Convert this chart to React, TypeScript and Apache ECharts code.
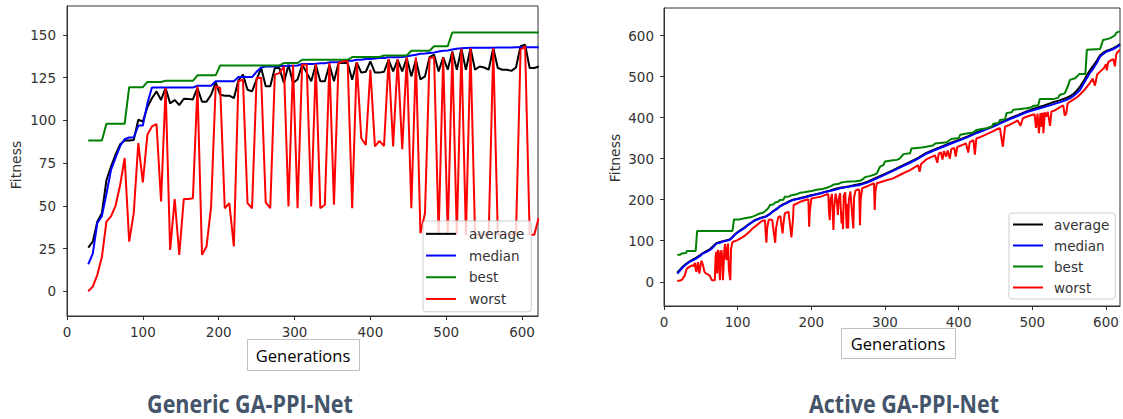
import React, { useEffect, useRef } from "react";
import * as echarts from "echarts";

// ---------- Left chart: Generic GA-PPI-Net ----------
const genL = [28, 34, 40, 46, 52, 58, 64, 70, 76, 82, 88, 94, 100, 106, 112, 118, 124, 130, 136, 142, 148, 154, 160, 166, 172, 178, 184, 190, 196, 202, 208, 214, 220, 226, 232, 238, 244, 250, 256, 262, 268, 274, 280, 286, 292, 298, 304, 310, 316, 322, 328, 334, 340, 346, 352, 358, 364, 370, 376, 382, 388, 394, 400, 406, 412, 418, 424, 430, 436, 442, 448, 454, 460, 466, 472, 478, 484, 490, 496, 502, 508, 514, 520, 526, 532, 538, 544, 550, 556, 562, 568, 574, 580, 586, 592, 598, 604, 610, 616, 622];

const averageL = [25.6, 29, 40.8, 45.7, 65, 73, 80, 86, 88.3, 88.3, 88.5, 100.4, 99.4, 107.8, 113, 117, 112, 119, 110, 112, 109, 112.7, 112.5, 112.3, 119, 111, 111, 115, 122.3, 115, 114.5, 114.5, 113, 123.4, 126.8, 118, 117, 124, 130.7, 120, 120, 130.7, 130.7, 121.9, 132.6, 121.9, 124, 132.6, 128, 122.9, 132.6, 122.9, 122.9, 132.6, 122.9, 133.6, 133.6, 133.6, 123.8, 134, 128, 128.5, 134.6, 128, 128, 128.5, 135.5, 128.7, 135.5, 128.7, 136.5, 125.8, 135.5, 124, 125.8, 137, 138.5, 128.7, 137, 129.7, 140.4, 129.7, 142, 129.7, 142.4, 129.7, 131.6, 131, 129.7, 142.4, 130.7, 129.7, 129.7, 129, 131, 143.4, 144.3, 130.7, 130.7, 131.6];

const medianL = [15.8, 22, 40, 44, 57, 71, 78, 85, 89, 90, 90, 97, 97, 110, 119.3, 119.3, 119.3, 119.3, 119.3, 119.3, 119.3, 119.3, 119.3, 119.3, 120.3, 120.3, 120.3, 120.3, 122.9, 122.9, 122.9, 122.9, 122.9, 125.4, 125.4, 125.4, 125.4, 128.5, 131, 131.6, 131.6, 131.6, 131.8, 131.8, 132, 132, 132.2, 133, 133, 133, 133.2, 133.5, 133.5, 134, 134, 134.2, 134.5, 135, 135, 135.5, 135.5, 136, 136, 136.2, 136.5, 136.5, 137, 137, 137, 137.2, 137.5, 138, 138.5, 139, 139.2, 139.5, 139.8, 140.3, 140.8, 141, 141.5, 142, 142.2, 142.4, 142.5, 142.5, 142.6, 142.6, 142.6, 142.6, 142.7, 142.7, 142.7, 142.7, 142.8, 142.8, 142.8, 142.8, 142.8, 142.8];

const bestL = [88.3, 88.3, 88.3, 88.3, 98, 98, 98, 98, 98, 119.5, 119.5, 119.5, 119.5, 122.5, 122.5, 122.5, 122.5, 123.2, 123.2, 123.2, 123.2, 123.2, 123.2, 123.2, 126.4, 126.4, 126.4, 126.4, 126.4, 132.2, 132.2, 132.2, 132.2, 132.2, 132.2, 132.2, 132.2, 132.2, 132.2, 132.2, 132.2, 132.2, 132.2, 133.6, 133.6, 133.6, 133.6, 135.5, 135.5, 135.5, 135.5, 135.5, 135.5, 135.5, 135.5, 135.5, 135.5, 135.5, 137.1, 137.1, 137.1, 137.1, 137.1, 137.1, 137.1, 138, 138, 138, 138, 138, 138, 140.8, 140.8, 140.8, 140.8, 140.8, 143.4, 143.4, 143.4, 143.4, 151.5, 151.5, 151.5, 151.5, 151.5, 151.5, 151.5, 151.5, 151.5, 151.5, 151.5, 151.5, 151.5, 151.5, 151.5, 151.5, 151.5, 151.5, 151.5, 151.5];

const worstL = [0, 2.7, 9.6, 20, 40.8, 43.8, 50, 62, 78, 29, 45.7, 86.7, 63.7, 91.6, 96.5, 97.9, 52.5, 119, 24.2, 54, 21.3, 54, 54, 54.5, 120, 21.3, 26.2, 49.6, 120, 119, 48.6, 51.6, 26.2, 122.9, 123.8, 51.6, 48.6, 124.8, 125, 52, 48.6, 126.8, 127.7, 131.6, 49.6, 132.6, 48.6, 132.6, 132.8, 49.6, 133, 48.6, 50.6, 133.6, 50.6, 133.6, 134.6, 134.6, 48.6, 134, 89.6, 85.7, 129.7, 84.8, 88, 85, 136, 84.8, 136, 83.2, 136.9, 48.6, 137, 34, 45.7, 136.5, 137, 33, 137, 33, 140, 33, 142, 33, 142.4, 33, 33, 33, 33, 142.4, 33, 33, 33, 33, 33, 141.4, 143.4, 33, 33, 43];

// ---------- Right chart: Active GA-PPI-Net ([generation, fitness]) ----------
const averageR: [number, number][] = [[18, 22], [22, 30], [26, 38], [30, 44], [35, 50], [40, 55], [44, 59], [49, 65], [53, 70], [58, 75], [62, 79], [67, 87], [71, 94], [76, 97], [80, 99], [85, 101], [90, 104], [96, 115], [100, 121], [105, 127], [110, 133], [114, 139], [119, 145], [123, 150], [130, 155], [135, 158], [139, 160], [144, 166], [148, 172], [153, 178], [157, 184], [162, 189], [166, 192], [171, 197], [175, 200], [180, 202], [185, 204], [192, 207], [198, 210], [205, 213], [212, 216], [218, 219], [225, 222], [232, 226], [239, 229], [246, 231], [252, 233], [259, 236], [266, 238], [275, 243], [280, 247], [289, 254], [300, 263], [311, 272], [320, 280], [334, 292], [345, 302], [356, 314], [368, 323], [379, 331], [390, 339], [402, 347], [413, 355], [424, 364], [436, 372], [447, 380], [458, 389], [469, 398], [480, 406], [492, 415], [503, 422], [515, 429], [526, 436], [537, 442], [545, 447], [551, 452], [556, 458], [560, 465], [565, 476], [570, 490], [574, 503], [578, 515], [583, 527], [588, 540], [592, 552], [597, 559], [601, 563], [606, 566], [610, 569], [615, 574], [619, 579]];

const medianR: [number, number][] = [[18, 20], [22, 28], [26, 36], [30, 42], [35, 49], [40, 53], [44, 57], [49, 63], [53, 69], [58, 73], [62, 77], [67, 85], [71, 93], [76, 95], [80, 98], [85, 100], [90, 103], [96, 114], [100, 120], [105, 126], [110, 132], [114, 138], [119, 144], [123, 149], [130, 154], [135, 157], [139, 159], [144, 165], [148, 171], [153, 177], [157, 183], [162, 188], [166, 191], [171, 196], [175, 199], [180, 201], [185, 203], [192, 206], [198, 209], [205, 212], [212, 215], [218, 218], [225, 221], [232, 224], [239, 228], [246, 230], [252, 232], [259, 234], [266, 236], [275, 241], [280, 245], [289, 252], [300, 261], [311, 270], [320, 278], [334, 290], [345, 300], [356, 312], [368, 321], [379, 329], [390, 337], [402, 345], [413, 353], [424, 362], [436, 370], [447, 378], [458, 387], [469, 396], [480, 404], [492, 413], [503, 419], [515, 425], [526, 431], [537, 437], [545, 442], [551, 447], [556, 453], [560, 459], [565, 468], [570, 484], [574, 496], [578, 508], [583, 520], [588, 535], [592, 549], [597, 556], [601, 561], [606, 564], [610, 567], [615, 572], [619, 577]];

const bestR: [number, number][] = [[18, 66], [22, 66], [24, 69], [30, 70], [31, 75], [43, 75], [45, 124], [93, 124], [95, 152], [103, 152], [108, 154], [117, 157], [122, 160], [128, 165], [134, 168], [137, 172], [141, 178], [144, 187], [148, 188], [151, 193], [155, 195], [157, 199], [162, 200], [164, 207], [170, 208], [173, 211], [180, 213], [185, 217], [190, 218], [196, 220], [202, 222], [207, 224], [215, 226], [221, 229], [227, 233], [230, 237], [236, 238], [241, 242], [248, 244], [260, 245], [266, 246], [270, 250], [273, 255], [280, 258], [284, 260], [289, 264], [293, 280], [298, 285], [300, 293], [311, 296], [316, 297], [320, 300], [325, 311], [334, 313], [336, 325], [350, 327], [356, 329], [365, 332], [368, 337], [384, 340], [390, 348], [400, 350], [402, 358], [413, 362], [420, 364], [424, 370], [438, 374], [445, 378], [447, 385], [454, 387], [456, 394], [463, 396], [465, 411], [472, 413], [474, 419], [492, 423], [499, 425], [501, 428], [508, 430], [510, 445], [528, 445], [535, 448], [537, 455], [544, 459], [549, 480], [551, 492], [558, 496], [564, 506], [572, 506], [574, 565], [592, 567], [596, 589], [605, 593], [612, 600], [614, 607], [619, 610]];

const worstR: [number, number][] = [[18, 2], [22, 3], [25, 6], [28, 15], [31, 32], [35, 37], [38, 40], [40, 38], [42, 46], [43, 30], [44, 24], [46, 48], [47, 35], [48, 20], [50, 45], [51, 51], [53, 40], [55, 24], [57, 20], [60, 18], [62, 15], [65, 4], [69, 4], [70, 60], [71, 73], [72, 20], [73, 75], [74, 77], [75, 30], [76, 4], [77, 70], [78, 77], [79, 60], [80, 4], [82, 80], [83, 92], [84, 60], [85, 53], [86, 80], [87, 93], [88, 30], [90, 4], [91, 80], [93, 97], [99, 101], [104, 106], [108, 110], [112, 116], [117, 124], [121, 131], [126, 138], [130, 144], [133, 148], [137, 150], [138, 120], [139, 95], [140, 130], [142, 150], [144, 152], [147, 150], [149, 120], [151, 95], [152, 130], [155, 157], [158, 160], [160, 130], [161, 118], [162, 140], [164, 167], [167, 169], [169, 171], [171, 140], [173, 108], [175, 150], [176, 187], [180, 190], [185, 195], [190, 198], [196, 201], [197, 134], [198, 170], [200, 203], [206, 205], [212, 207], [218, 211], [223, 214], [224, 170], [225, 150], [226, 200], [228, 214], [230, 126], [231, 180], [233, 215], [235, 190], [236, 163], [237, 200], [239, 216], [241, 142], [242, 170], [243, 128], [244, 210], [246, 218], [248, 130], [249, 190], [250, 130], [251, 200], [253, 220], [257, 130], [258, 205], [260, 222], [262, 224], [265, 225], [266, 138], [267, 200], [269, 228], [275, 232], [280, 236], [285, 240], [286, 175], [287, 220], [289, 240], [300, 246], [311, 252], [322, 262], [334, 272], [345, 284], [347, 268], [349, 287], [356, 298], [362, 303], [368, 308], [371, 290], [373, 312], [376, 315], [378, 298], [380, 318], [383, 305], [385, 320], [388, 300], [390, 323], [394, 326], [396, 305], [398, 328], [402, 331], [406, 334], [410, 337], [413, 315], [415, 340], [420, 345], [422, 310], [424, 349], [430, 353], [436, 358], [441, 362], [447, 367], [452, 372], [456, 374], [460, 329], [463, 378], [469, 382], [475, 388], [480, 393], [484, 380], [487, 398], [492, 402], [497, 405], [503, 408], [505, 375], [507, 410], [509, 362], [511, 411], [512, 378], [514, 412], [515, 362], [517, 413], [519, 402], [521, 414], [524, 380], [526, 415], [530, 417], [537, 425], [542, 430], [544, 405], [546, 410], [548, 435], [555, 443], [560, 449], [564, 455], [571, 468], [578, 484], [582, 495], [585, 478], [588, 505], [592, 512], [597, 520], [600, 530], [601, 515], [603, 535], [607, 540], [610, 542], [612, 525], [614, 555], [616, 560], [619, 565]];

// ---------- Ticks / labels ----------
const xTicks = [0, 100, 200, 300, 400, 500, 600];
const yTicksL = [0, 25, 50, 75, 100, 125, 150];
const yTicksR = [0, 100, 200, 300, 400, 500, 600];
const seriesNames = ["average", "median", "best", "worst"];
const seriesColors = ["#000000", "#0000ff", "#008000", "#ff0000"];
const titles = ["Generic GA-PPI-Net", "Active GA-PPI-Net"];

const AXIS = "#333333";
const TICKFONT = "DejaVu Sans";

function xAxisCfg(gridIndex: number, max: number) {
  return {
    gridIndex,
    type: "value",
    min: 0,
    max,
    axisLine: { show: true, onZero: false, lineStyle: { color: AXIS, width: 1 } },
    axisTick: { show: true, length: 4, customValues: xTicks, lineStyle: { color: AXIS } },
    axisLabel: { customValues: xTicks, color: AXIS, fontSize: 13.5, fontFamily: TICKFONT, margin: 9 },
    splitLine: { show: false },
  };
}
function yAxisCfg(gridIndex: number, min: number, max: number, ticks: number[], margin: number) {
  return {
    gridIndex,
    type: "value",
    min,
    max,
    axisLine: { show: true, onZero: false, lineStyle: { color: AXIS, width: 1 } },
    axisTick: { show: true, length: 4, customValues: ticks, lineStyle: { color: AXIS } },
    axisLabel: { customValues: ticks, color: AXIS, fontSize: 13.5, fontFamily: TICKFONT, margin },
    splitLine: { show: false },
  };
}

function legendCfg(left: number, top: number, lh: number, padding: number[], textPad: number) {
  return {
    data: seriesNames,
    orient: "vertical",
    left,
    top,
    icon: "rect",
    itemWidth: 30,
    itemHeight: 2,
    itemGap: 0,
    padding,
    selectedMode: false,
    backgroundColor: "rgba(255,255,255,0.8)",
    borderColor: "#cccccc",
    borderWidth: 1,
    borderRadius: 3,
    textStyle: { fontFamily: TICKFONT, fontSize: 13.5, color: AXIS, lineHeight: lh, padding: [0, 0, 0, textPad] },
  };
}

function buildOption() {
  const leftData = [averageL, medianL, bestL, worstL].map((vals) => genL.map((g, i) => [g, vals[i]]));
  const rightData = [averageR, medianR, bestR, worstR];
  const series: any[] = [];
  seriesNames.forEach((name, i) => {
    series.push({
      name,
      type: "line",
      xAxisIndex: 0,
      yAxisIndex: 0,
      data: leftData[i],
      symbol: "none",
      showSymbol: false,
      lineStyle: { color: seriesColors[i], width: 2 },
      itemStyle: { color: seriesColors[i] },
    });
  });
  seriesNames.forEach((name, i) => {
    series.push({
      name,
      type: "line",
      xAxisIndex: 1,
      yAxisIndex: 1,
      data: rightData[i],
      symbol: "none",
      showSymbol: false,
      lineStyle: { color: seriesColors[i], width: 2 },
      itemStyle: { color: seriesColors[i] },
    });
  });

  return {
    animation: false,
    backgroundColor: "#ffffff",
    grid: [
      { left: 67, top: 6, width: 471, height: 310, show: true, borderColor: AXIS, borderWidth: 1, backgroundColor: "transparent" },
      { left: 664, top: 8, width: 456, height: 298, show: true, borderColor: AXIS, borderWidth: 1, backgroundColor: "transparent" },
    ],
    xAxis: [xAxisCfg(0, 621), xAxisCfg(1, 619)],
    yAxis: [yAxisCfg(0, -14.5, 167, yTicksL, 11), yAxisCfg(1, -59, 667, yTicksR, 10)],
    legend: [legendCfg(423, 221, 21.7, [2, 7, 2, 3], 8), legendCfg(1009, 213, 21, [1, 6, 1, 4], 6)],
    series,
    graphic: [
      { type: "text", x: 16, y: 165, rotation: Math.PI / 2, style: { text: "Fitness", fontSize: 14, fontFamily: TICKFONT, fill: AXIS, textAlign: "center", textVerticalAlign: "middle" } },
      { type: "text", x: 615, y: 158, rotation: Math.PI / 2, style: { text: "Fitness", fontSize: 14, fontFamily: TICKFONT, fill: AXIS, textAlign: "center", textVerticalAlign: "middle" } },
      { type: "rect", shape: { x: 247.5, y: 339.5, width: 112, height: 31 }, style: { fill: "#ffffff", stroke: "#bfbfbf", lineWidth: 1 } },
      { type: "text", x: 303, y: 355, style: { text: "Generations", fontSize: 16.5, fontFamily: "Open Sans", fill: "#000000", textAlign: "center", textVerticalAlign: "middle" } },
      { type: "rect", shape: { x: 841.5, y: 328.5, width: 114, height: 30 }, style: { fill: "#ffffff", stroke: "#bfbfbf", lineWidth: 1 } },
      { type: "text", x: 898, y: 343.5, style: { text: "Generations", fontSize: 16.5, fontFamily: "Open Sans", fill: "#000000", textAlign: "center", textVerticalAlign: "middle" } },
      { type: "text", x: 250, y: 403, scaleX: 0.86, style: { text: titles[0], fontSize: 25, fontWeight: "bold", fontFamily: "Open Sans", fill: "#44546a", textAlign: "center", textVerticalAlign: "middle" } },
      { type: "text", x: 904, y: 403, scaleX: 0.86, style: { text: titles[1], fontSize: 25, fontWeight: "bold", fontFamily: "Open Sans", fill: "#44546a", textAlign: "center", textVerticalAlign: "middle" } },
    ],
  };
}

export default function App() {
  const ref = useRef<HTMLDivElement>(null);
  useEffect(() => {
    if (!ref.current) return;
    const chart = echarts.init(ref.current, null, { renderer: "svg" });
    chart.setOption(buildOption() as any);
    return () => chart.dispose();
  }, []);
  return (
    <div
      ref={ref}
      style={{ position: "fixed", left: 0, top: 0, width: 1123, height: 419, background: "#ffffff" }}
    />
  );
}
